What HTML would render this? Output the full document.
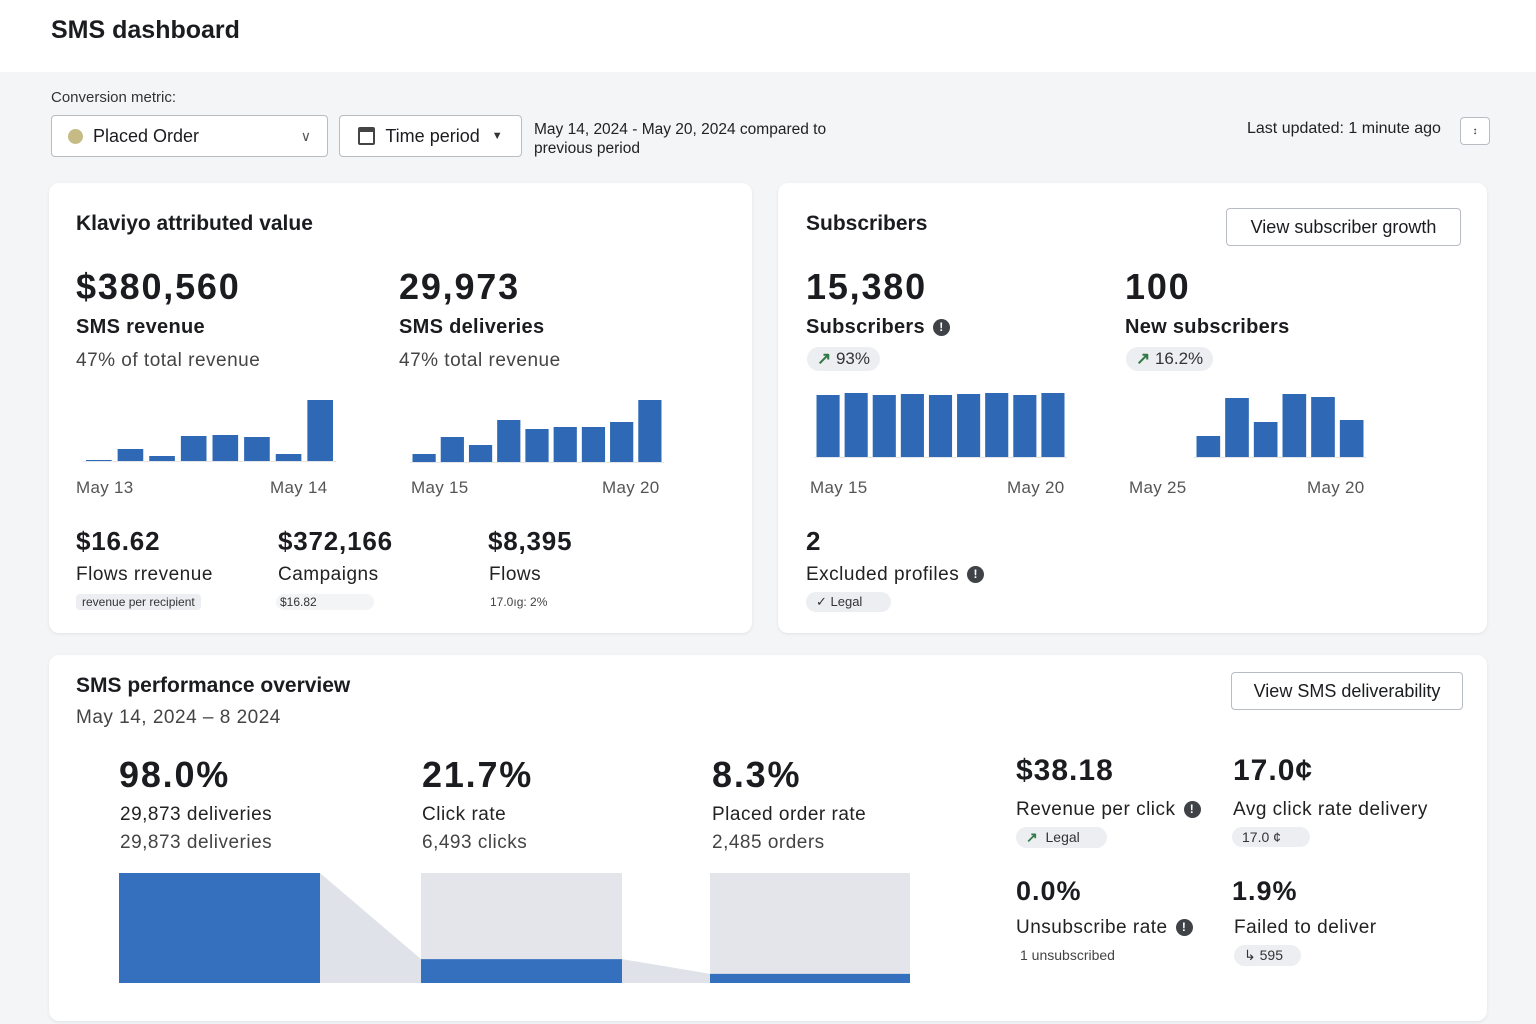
<!DOCTYPE html>
<html><head><meta charset="utf-8">
<style>
*{box-sizing:border-box;margin:0;padding:0}
body{width:1536px;height:1024px;background:#f4f5f7;font-family:"Liberation Sans",sans-serif;color:#1b1c1f;position:relative;overflow:hidden}
.a{position:absolute;white-space:nowrap}
.card{position:absolute;background:#fff;border-radius:10px;box-shadow:0 1px 3px rgba(0,0,0,.08)}
.h{font-size:21px;font-weight:bold}
.big{font-size:36px;font-weight:bold;letter-spacing:1.8px}
.lab{font-size:20px;font-weight:bold;letter-spacing:.3px}
.sub{font-size:19px;color:#444;letter-spacing:.5px}
.tick{font-size:17px;color:#555;letter-spacing:.3px}
.pill{position:absolute;background:#eceef1;border-radius:12px;font-size:17px;color:#333;padding:2px 10px;white-space:nowrap}
.btn{position:absolute;border:1px solid #b8bcc3;border-radius:4px;background:#fff;font-size:18px;display:flex;align-items:center;justify-content:center}
.info{display:inline-block;width:17px;height:17px;border-radius:50%;background:#3f4246;color:#fff;font-size:12px;text-align:center;line-height:17px;vertical-align:middle;margin-left:8px;font-weight:bold}
.arrow{color:#2f7a46;font-weight:bold}
</style></head><body>
<div class="a" style="left:0;top:0;width:1536px;height:72px;background:#fff"></div>
<div class="a" style="left:51px;top:16px;font-size:25px;font-weight:bold">SMS dashboard</div>
<div class="a" style="left:51px;top:89px;font-size:15px;color:#333">Conversion metric:</div>
<div class="btn" style="left:51px;top:115px;width:277px;height:42px;justify-content:flex-start;padding-left:16px"><span style="width:15px;height:15px;border-radius:50%;background:#c6bb84;margin-right:10px"></span>Placed Order<span style="position:absolute;right:16px;font-size:14px;color:#555">&#8744;</span></div>
<div class="btn" style="left:339px;top:115px;width:183px;height:42px"><span style="display:inline-block;width:17px;height:18px;border:2px solid #444;border-top-width:5px;border-radius:2px;margin-right:10px"></span>Time period<span style="font-size:11px;margin-left:12px;color:#333">&#9660;</span></div>
<div class="a" style="left:534px;top:120px;font-size:15.5px;line-height:19px;color:#222">May 14, 2024 - May 20, 2024 compared to<br>previous period</div>
<div class="a" style="left:1247px;top:120px;font-size:16px;color:#222">Last updated: 1 minute ago</div>
<div class="btn" style="left:1460px;top:117px;width:30px;height:28px;font-size:10px">&#8597;</div>

<div class="card" style="left:49px;top:183px;width:703px;height:450px"></div>
<div class="a h" style="left:76px;top:212px">Klaviyo attributed value</div>
<div class="a big" style="left:76px;top:266px">$380,560</div>
<div class="a lab" style="left:76px;top:316px">SMS revenue</div>
<div class="a sub" style="left:76px;top:350px">47% of total revenue</div>
<div class="a big" style="left:399px;top:266px">29,973</div>
<div class="a lab" style="left:399px;top:316px">SMS deliveries</div>
<div class="a sub" style="left:399px;top:350px">47% total revenue</div>
<div class="a tick" style="left:76px;top:478px">May 13</div>
<div class="a tick" style="left:270px;top:478px">May 14</div>
<div class="a tick" style="left:411px;top:478px">May 15</div>
<div class="a tick" style="left:602px;top:478px">May 20</div>
<div class="a" style="left:76px;top:526px;font-size:26px;font-weight:bold;letter-spacing:.8px">$16.62</div>
<div class="a sub" style="left:76px;top:564px;color:#222">Flows rrevenue</div>
<div class="pill" style="left:76px;top:594px;font-size:12px;border-radius:4px;padding:1px 6px">revenue per recipient</div>
<div class="a" style="left:278px;top:526px;font-size:26px;font-weight:bold;letter-spacing:.8px">$372,166</div>
<div class="a sub" style="left:278px;top:564px;color:#222">Campaigns</div>
<div class="pill" style="left:276px;top:594px;font-size:12px;padding:1px 4px;width:98px;background:#f3f4f6">$16.82</div>
<div class="a" style="left:488px;top:526px;font-size:26px;font-weight:bold;letter-spacing:.8px">$8,395</div>
<div class="a sub" style="left:489px;top:564px;color:#222">Flows</div>
<div class="a" style="left:490px;top:595px;font-size:12px;color:#444">17.0ıg: 2%</div>

<div class="card" style="left:778px;top:183px;width:709px;height:450px"></div>
<div class="a h" style="left:806px;top:212px">Subscribers</div>
<div class="btn" style="left:1226px;top:208px;width:235px;height:38px">View subscriber growth</div>
<div class="a big" style="left:806px;top:266px">15,380</div>
<div class="a lab" style="left:806px;top:316px">Subscribers<span class="info">!</span></div>
<div class="pill" style="left:807px;top:347px"><span class="arrow">&#8599;</span> 93%</div>
<div class="a big" style="left:1125px;top:266px">100</div>
<div class="a lab" style="left:1125px;top:316px">New subscribers</div>
<div class="pill" style="left:1126px;top:347px"><span class="arrow">&#8599;</span> 16.2%</div>
<div class="a tick" style="left:810px;top:478px">May 15</div>
<div class="a tick" style="left:1007px;top:478px">May 20</div>
<div class="a tick" style="left:1129px;top:478px">May 25</div>
<div class="a tick" style="left:1307px;top:478px">May 20</div>
<div class="a" style="left:806px;top:526px;font-size:26px;font-weight:bold">2</div>
<div class="a sub" style="left:806px;top:564px;color:#222">Excluded profiles<span class="info">!</span></div>
<div class="pill" style="left:806px;top:592px;font-size:13px;width:85px">&#10003; Legal</div>

<div class="card" style="left:49px;top:655px;width:1438px;height:366px"></div>
<div class="a h" style="left:76px;top:674px">SMS performance overview</div>
<div class="a sub" style="left:76px;top:707px">May 14, 2024 – 8 2024</div>
<div class="btn" style="left:1231px;top:672px;width:232px;height:38px">View SMS deliverability</div>
<div class="a big" style="left:119px;top:754px">98.0%</div>
<div class="a sub" style="left:120px;top:804px;color:#222">29,873 deliveries</div>
<div class="a sub" style="left:120px;top:832px">29,873 deliveries</div>
<div class="a big" style="left:422px;top:754px">21.7%</div>
<div class="a sub" style="left:422px;top:804px;color:#222">Click rate</div>
<div class="a sub" style="left:422px;top:832px">6,493 clicks</div>
<div class="a big" style="left:712px;top:754px">8.3%</div>
<div class="a sub" style="left:712px;top:804px;color:#222">Placed order rate</div>
<div class="a sub" style="left:712px;top:832px">2,485 orders</div>

<div class="a" style="left:1016px;top:754px;font-size:30px;font-weight:bold;letter-spacing:1px">$38.18</div>
<div class="a sub" style="left:1016px;top:799px;color:#222">Revenue per click<span class="info">!</span></div>
<div class="pill" style="left:1016px;top:827px;font-size:14px;width:91px"><span class="arrow">&#8599;</span>&nbsp; Legal</div>
<div class="a" style="left:1233px;top:754px;font-size:30px;font-weight:bold;letter-spacing:1px">17.0¢</div>
<div class="a sub" style="left:1233px;top:799px;color:#222">Avg click rate delivery</div>
<div class="pill" style="left:1232px;top:827px;font-size:14px;width:78px">17.0 ¢</div>
<div class="a" style="left:1016px;top:876px;font-size:27px;font-weight:bold;letter-spacing:1px">0.0%</div>
<div class="a sub" style="left:1016px;top:917px;color:#222">Unsubscribe rate<span class="info">!</span></div>
<div class="a" style="left:1020px;top:947px;font-size:14px;color:#444">1 unsubscribed</div>
<div class="a" style="left:1232px;top:876px;font-size:27px;font-weight:bold;letter-spacing:1px">1.9%</div>
<div class="a sub" style="left:1234px;top:917px;color:#222">Failed to deliver</div>
<div class="pill" style="left:1234px;top:945px;font-size:14px;width:67px">&#8627; 595</div>

<svg id="svg" width="1536" height="1024" style="position:absolute;left:0;top:0"></svg>
<script>
const revValues=[1,12,5,25,26,24,7,61];
const delValues=[8,25,17,42,33,35,35,40,62];
const subValues=[62,64,62,63,62,63,64,62,64];
const newSubValues=[21,59,35,63,60,37];
const funnelLabels=['Delivered','Clicked','Placed order'];
const funnelValues=[100,21.7,8.3];
const NS='http://www.w3.org/2000/svg';
const svg=document.getElementById('svg');
function mk(t,a){const e=document.createElementNS(NS,t);for(const k in a)e.setAttribute(k,a[k]);svg.appendChild(e);return e;}
function barChart(vals,x0,x1,base,maxH,maxV,gap,name){
  const n=vals.length,step=(x1-x0)/n,w=step-gap;
  const y=v=>base-v/maxV*maxH;
  mk('line',{x1:x0,x2:x1,y1:base+0.5,y2:base+0.5,stroke:'#e3e5e8','stroke-width':1});
  vals.forEach((v,i)=>{
    const r=mk('rect',{x:x0+i*step+gap/2,y:y(v),width:w,height:base-y(v),fill:'#2f68b5'});
    
    
  });
}
barChart(revValues,83,336,461,61,61,6,'revenue');
barChart(delValues,410,664,462,62,62,5,'deliveries');
barChart(subValues,814,1067,457,64,64,5,'subscribers');
barChart(newSubValues,1194,1366,457,63,63,5,'new-subscribers');
const fx=[119,421,710],fw=[201,201,200],fTop=873,fH=110,fBase=983;
const fy=v=>fBase-v/100*fH;
funnelValues.forEach((v,i)=>{
  const bg=mk('rect',{x:fx[i],y:fTop,width:fw[i],height:fH,fill:'#e3e5eb'});
  
  
  const r=mk('rect',{x:fx[i],y:fy(v),width:fw[i],height:fBase-fy(v),fill:'#3570bf'});
  
  
  if(i<funnelValues.length-1){
    const xa=fx[i]+fw[i],xb=fx[i+1];
    const p=mk('polygon',{points:`${xa},${fy(v)} ${xb},${fy(funnelValues[i+1])} ${xb},${fBase} ${xa},${fBase}`,fill:'#dfe2e9'});
    
    
  }
});
</script>
</body></html>
